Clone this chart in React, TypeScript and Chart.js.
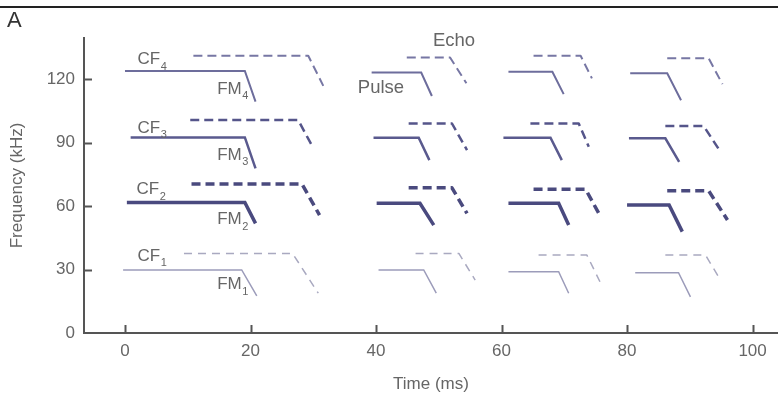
import { useEffect, useRef } from 'react';
import { Chart, registerables } from 'chart.js';

Chart.register(...registerables);

// ---- data (time in ms, frequency in kHz) ----
const X_TICKS = [0, 20, 40, 60, 80, 100];
const Y_TICKS = [0, 30, 60, 90, 120];

const H4_PULSE = [
  [[0, 123.8], [19.1, 123.8], [20.8, 109.3]],
  [[39.3, 123.1], [47.2, 123.1], [48.9, 112]],
  [[61.1, 123.4], [68.1, 123.4], [69.9, 112.9]],
  [[80.5, 122.7], [86.4, 122.7], [88.6, 110]],
];
const H4_ECHO = [
  [[10.9, 131], [29.2, 131], [31.6, 116.8]],
  [[44.9, 130.2], [51.8, 130.2], [54.4, 118]],
  [[65.1, 131], [72.6, 131], [74.4, 120.3]],
  [[86.4, 129.8], [93, 129.8], [95.2, 117.6]],
];
const H3_PULSE = [
  [[0.9, 92.4], [19.1, 92.4], [20.8, 77.8]],
  [[39.6, 92.3], [46.8, 92.3], [48.5, 81.7]],
  [[60.3, 92.3], [67.8, 92.3], [69.6, 81.7]],
  [[80.3, 92], [86.1, 92], [88.3, 80.9]],
];
const H3_ECHO = [
  [[10.4, 100.6], [27.6, 100.6], [30, 87.4]],
  [[45.2, 99], [52.1, 99], [54.5, 86.4]],
  [[64.6, 99], [72.3, 99], [73.9, 88]],
  [[86.1, 97.8], [92.2, 97.8], [94.9, 85.6]],
];
const H2_PULSE = [
  [[0.3, 61.7], [19.1, 61.7], [20.8, 51.8]],
  [[40.1, 61.3], [47, 61.3], [49.2, 51]],
  [[61.1, 61.3], [69.1, 61.3], [70.7, 51]],
  [[80, 60.5], [86.7, 60.5], [88.8, 47.9]],
];
const H2_ECHO = [
  [[10.6, 70.4], [28.2, 70.4], [31, 55.7]],
  [[45.2, 68.6], [52.1, 68.6], [54.5, 56.5]],
  [[65.1, 67.9], [73.4, 67.9], [75.5, 56.5]],
  [[86.4, 67.2], [93, 67.2], [96, 53.4]],
];
const H1_PULSE = [
  [[-0.3, 29.8], [18.6, 29.8], [21, 17.5]],
  [[40.4, 29.8], [47.6, 29.8], [49.6, 18.8]],
  [[61.1, 29], [69.1, 29], [70.7, 18.8]],
  [[81.3, 28.5], [88.2, 28.5], [90.1, 17.1]],
];
const H1_ECHO = [
  [[9.4, 37.6], [26.7, 37.6], [30.8, 18.8]],
  [[46.3, 37.6], [53.2, 37.6], [55.8, 25]],
  [[65.9, 36.8], [73.6, 36.8], [75.8, 23.5]],
  [[86.1, 36.8], [92.5, 36.8], [94.9, 25]],
];

// text annotations: [main, subscript, t, f, font size]
const TEXT_LABELS: [string, string, number, number, number][] = [
  ['CF', '4', 2.0, 129.1, 17],
  ['FM', '4', 14.7, 115.3, 17],
  ['CF', '3', 2.0, 96.9, 17],
  ['FM', '3', 14.7, 84.2, 17],
  ['CF', '2', 1.85, 67.7, 17],
  ['FM', '2', 14.7, 53.5, 17],
  ['CF', '1', 2.0, 36.2, 17],
  ['FM', '1', 14.7, 22.8, 17],
  ['Echo', '', 49.06, 138.2, 18.5],
  ['Pulse', '', 37.1, 115.7, 18.5],
];

const FONT = "'Liberation Sans', Arial, sans-serif";

const STYLES = [
  { pulse: H4_PULSE, echo: H4_ECHO, pc: '#6d6d9c', ec: '#7777a4', w: 2, ew: 2, dash: [9, 5] },
  { pulse: H3_PULSE, echo: H3_ECHO, pc: '#5a5a8e', ec: '#55558a', w: 2.5, ew: 2.5, dash: [9, 5] },
  { pulse: H2_PULSE, echo: H2_ECHO, pc: '#4a4a7f', ec: '#4a4a7e', w: 3.5, ew: 3.5, dash: [9, 5] },
  { pulse: H1_PULSE, echo: H1_ECHO, pc: '#9c9cba', ec: '#a9a9c0', w: 1.5, ew: 1.5, dash: [8, 6] },
];

function buildDatasets() {
  const ds: any[] = [];
  STYLES.forEach((s) => {
    s.pulse.forEach((seg) => {
      ds.push({
        data: seg.map(([x, y]) => ({ x, y })),
        borderColor: s.pc,
        borderWidth: s.w,
        pointRadius: 0,
        fill: false,
        tension: 0,
        borderCapStyle: 'butt',
        borderJoinStyle: 'miter',
      });
    });
    s.echo.forEach((seg) => {
      ds.push({
        data: seg.map(([x, y]) => ({ x, y })),
        borderColor: s.ec,
        borderWidth: s.ew,
        borderDash: s.dash,
        pointRadius: 0,
        fill: false,
        tension: 0,
        borderCapStyle: 'butt',
        borderJoinStyle: 'round',
      });
    });
  });
  return ds;
}

const decorPlugin = {
  id: 'decor',
  afterDraw(chart: any) {
    const ctx = chart.ctx;
    const xs = chart.scales.x;
    const ys = chart.scales.y;
    ctx.save();
    // top rule
    ctx.strokeStyle = '#222';
    ctx.lineWidth = 2;
    ctx.beginPath();
    ctx.moveTo(0, 7);
    ctx.lineTo(chart.width, 7);
    ctx.stroke();
    // panel letter
    ctx.fillStyle = '#333';
    ctx.font = `22px ${FONT}`;
    ctx.textBaseline = 'alphabetic';
    ctx.textAlign = 'left';
    ctx.fillText('A', 7, 27);
    // inward tick marks
    ctx.strokeStyle = '#555';
    ctx.lineWidth = 2;
    const bottom = chart.chartArea.bottom;
    const left = chart.chartArea.left;
    X_TICKS.forEach((v) => {
      const px = Math.round(xs.getPixelForValue(v)) + 0.5;
      ctx.beginPath();
      ctx.moveTo(px, bottom);
      ctx.lineTo(px, bottom - 8);
      ctx.stroke();
    });
    Y_TICKS.filter((v) => v > 0).forEach((v) => {
      const py = Math.round(ys.getPixelForValue(v)) + 0.5;
      ctx.beginPath();
      ctx.moveTo(left, py);
      ctx.lineTo(left + 8, py);
      ctx.stroke();
    });
    // text labels
    ctx.fillStyle = '#666';
    TEXT_LABELS.forEach(([main, sub, t, f, size]) => {
      const px = xs.getPixelForValue(t);
      const py = ys.getPixelForValue(f);
      ctx.font = `${size}px ${FONT}`;
      ctx.textBaseline = 'middle';
      ctx.fillText(main, px, py);
      if (sub) {
        const w = ctx.measureText(main).width;
        ctx.font = `11px ${FONT}`;
        ctx.fillText(sub, px + w + 0.5, py + 7);
      }
    });
    ctx.restore();
  },
};

export default function App() {
  const ref = useRef<HTMLCanvasElement>(null);
  useEffect(() => {
    if (!ref.current) return;
    const chart = new Chart(ref.current, {
      type: 'line',
      data: { datasets: buildDatasets() },
      options: {
        responsive: false,
        animation: false,
        devicePixelRatio: 1,
        layout: { padding: { top: 38, left: 0, right: 0, bottom: 0 } },
        plugins: { legend: { display: false }, tooltip: { enabled: false } },
        scales: {
          x: {
            type: 'linear',
            min: -6.53,
            max: 104.05,
            afterBuildTicks: (s: any) => {
              s.ticks = X_TICKS.map((v) => ({ value: v }));
            },
            afterFit: (s: any) => {
              s.height = 66;
            },
            grid: { display: false, drawTicks: false },
            border: { display: true, color: '#555', width: 2 },
            ticks: { color: '#666', font: { family: FONT, size: 17 }, padding: 8, maxRotation: 0 },
            title: {
              display: true,
              text: 'Time (ms)',
              color: '#666',
              font: { family: FONT, size: 17 },
              padding: { top: 0, bottom: 4 },
            },
          },
          y: {
            type: 'linear',
            min: 0,
            max: 139.4,
            afterBuildTicks: (s: any) => {
              s.ticks = Y_TICKS.map((v) => ({ value: v }));
            },
            afterFit: (s: any) => {
              s.width = 84;
            },
            grid: { display: false, drawTicks: false },
            border: { display: true, color: '#555', width: 2 },
            ticks: { color: '#666', font: { family: FONT, size: 17 }, padding: 9 },
            title: {
              display: true,
              text: 'Frequency (kHz)',
              color: '#666',
              font: { family: FONT, size: 17 },
              padding: { top: 7, bottom: 0 },
            },
          },
        },
      },
      plugins: [decorPlugin],
    });
    return () => chart.destroy();
  }, []);
  return (
    <div style={{ position: 'absolute', left: 0, top: 0, width: 778, height: 399, background: '#fff' }}>
      <canvas ref={ref} width={778} height={399} style={{ display: 'block', width: 778, height: 399 }} />
    </div>
  );
}
